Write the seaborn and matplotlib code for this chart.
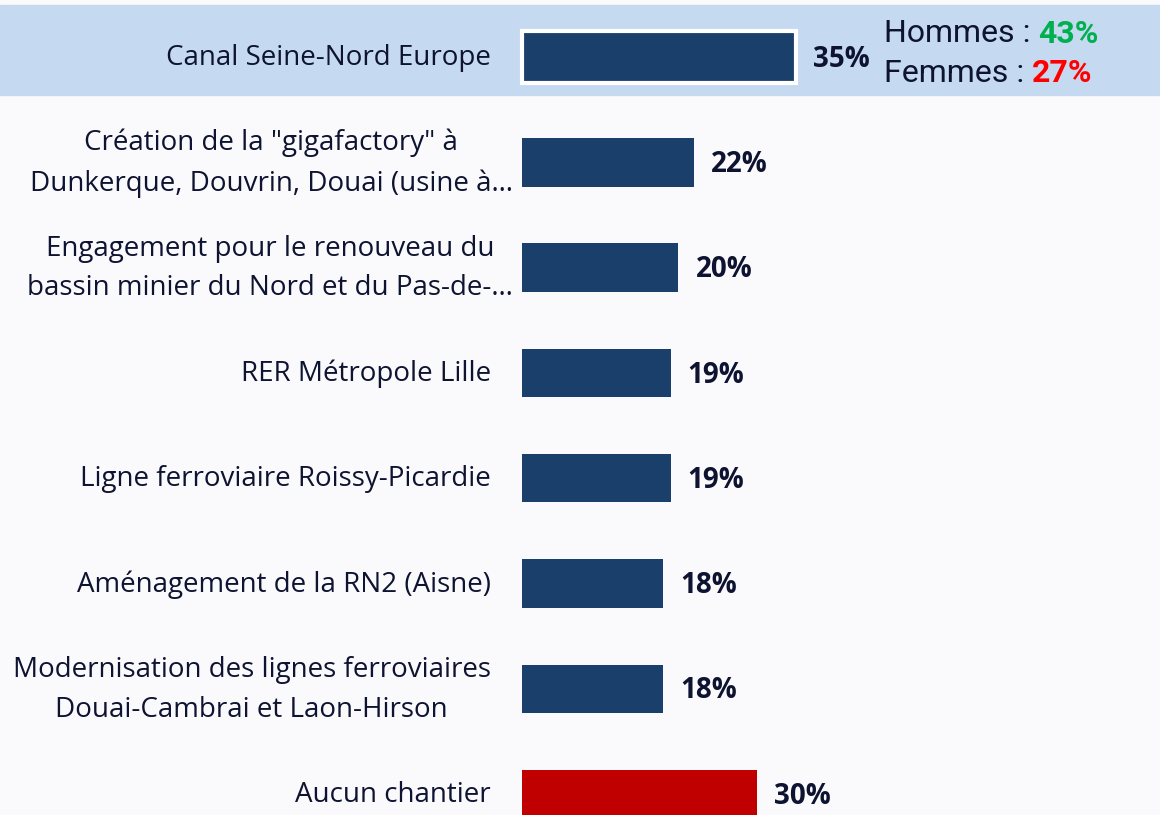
import matplotlib
matplotlib.use("Agg")
import matplotlib.pyplot as plt
import seaborn as sns
import pandas as pd

categories = [
    "Canal Seine-Nord Europe",
    "Création de la \"gigafactory\" à\nDunkerque, Douvrin, Douai (usine à…",
    "Engagement pour le renouveau du\nbassin minier du Nord et du Pas-de-…",
    "RER Métropole Lille",
    "Ligne ferroviaire Roissy-Picardie",
    "Aménagement de la RN2 (Aisne)",
    "Modernisation des lignes ferroviaires\nDouai-Cambrai et Laon-Hirson",
    "Aucun chantier",
]
values = [35, 22, 20, 19, 19, 18, 18, 30]
value_labels = ["35%", "22%", "20%", "19%", "19%", "18%", "18%", "30%"]
bar_colors = ["#1a3f6b"] * 7 + ["#c00000"]
hommes_label = "Hommes : "
hommes_value = "43%"
femmes_label = "Femmes : "
femmes_value = "27%"

BG = "#fafafd"
BAND = "#c5d9f0"
TXT = "#0d1330"

sns.set_theme(style="white")
plt.rcParams["font.family"] = ["Open Sans", "DejaVu Sans"]

fig = plt.figure(figsize=(11.6, 8.15), dpi=100, facecolor=BG)
ax = fig.add_axes([0, 0, 1, 1])
ax.set_facecolor(BG)

df = pd.DataFrame({"cat": categories, "val": values})
sns.barplot(data=df, x="val", y="cat", hue="cat", palette=bar_colors,
            legend=False, orient="h", width=0.46, ax=ax, saturation=1,
            edgecolor="none", linewidth=0)

px_per_unit = 7.82
x0 = 522
ax.set_xlim(-x0 / px_per_unit, (1160 - x0) / px_per_unit)
ypx0 = 57.0
ystep = 105.3
ax.set_ylim(7 + (815 - (ypx0 + 7 * ystep)) / ystep, -ypx0 / ystep)

# highlight band
ax.axhspan((5 - ypx0) / ystep, (95 - ypx0) / ystep, color=BAND, zorder=0)

# first bar emphasis: white border
for p in ax.patches:
    if abs(p.get_y() + p.get_height() / 2) < 0.01 and p.get_width() > 0:
        p.set_height(0.50)
        p.set_y(-0.25)
        p.set_edgecolor("white")
        p.set_linewidth(3)
        p.set_zorder(3)

for i, (v, lab) in enumerate(zip(values, value_labels)):
    ax.text(v + 2.2, i + 0.02, lab, ha="left", va="center", fontsize=20,
            fontweight="bold", color=TXT, zorder=4)
    # truncated labels overflow the right edge by the ellipsis width
    xr = -4.0 + (22 / px_per_unit if categories[i].endswith("…") else 0)
    ax.text(xr, i + 0.01, categories[i], ha="right", va="center", fontsize=20,
            color=TXT, multialignment="center", linespacing=1.55, zorder=4)

# gender split annotation
xh = (884 - x0) / px_per_unit
fam = ["Roboto", "DejaVu Sans"]
t1 = ax.text(xh, (34 - ypx0) / ystep, hommes_label, ha="left", va="center",
             fontsize=23, color=TXT, family=fam)
ax.annotate(hommes_value, xy=(1, 0.5), xycoords=t1, ha="left", va="center",
            fontsize=23, fontweight="bold", color="#00b050", family=fam)
t2 = ax.text(xh, (73 - ypx0) / ystep, femmes_label, ha="left", va="center",
             fontsize=23, color=TXT, family=fam)
ax.annotate(femmes_value, xy=(1, 0.5), xycoords=t2, ha="left", va="center",
            fontsize=23, fontweight="bold", color="#ff0000", family=fam)

ax.set_xticks([])
ax.set_yticks([])
ax.set_xlabel("")
ax.set_ylabel("")
for s in ax.spines.values():
    s.set_visible(False)

fig.savefig("out.png", dpi=100, facecolor=BG)
